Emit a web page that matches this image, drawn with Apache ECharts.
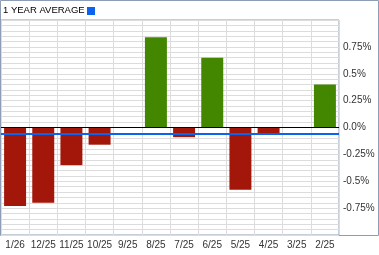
<!DOCTYPE html>
<html><head><meta charset="utf-8">
<script src="https://cdn.jsdelivr.net/npm/echarts@6/dist/echarts.min.js"></script>
<style>html,body{margin:0;padding:0;background:#fff}#c{width:379px;height:255px}</style>
</head><body><div id="c"></div>
<script>
var categories = ['1/26','12/25','11/25','10/25','9/25','8/25','7/25','6/25','5/25','4/25','3/25','2/25'];
var values = [-0.73,-0.70,-0.35,-0.16,0,0.84,-0.09,0.65,-0.58,-0.06,0,0.40];
var average = -0.06;
var yTicks = [0.75,0.5,0.25,0,-0.25,-0.5,-0.75];
var titleText = '1 YEAR AVERAGE';

var chart = echarts.init(document.getElementById('c'), null, {renderer:'canvas'});
var border = '#8c9db5';
chart.setOption({
  animation:false,
  grid:{left:1,right:40,top:20,bottom:20,show:true,borderColor:border,borderWidth:1,backgroundColor:'#fff'},
  graphic:[
    {type:'rect',shape:{x:0.5,y:0.5,width:378,height:235},style:{fill:'none',stroke:border,lineWidth:1},z:-1},
    {type:'text',left:3,top:5,style:{text:titleText,font:'9.5px "Liberation Sans", Arial, sans-serif',fill:'#000'}},
    {type:'rect',shape:{x:87,y:7,width:8,height:8},style:{fill:'#0a64f0'}}
  ],
  xAxis:{type:'category',data:categories,boundaryGap:true,
    axisLine:{show:false},axisTick:{show:false},
    splitLine:{show:true,lineStyle:{color:'#dcdcdc',width:1}},
    axisLabel:{color:'#333',fontSize:10,fontFamily:'"Liberation Sans", Arial, sans-serif',margin:5,interval:0}},
  yAxis:{type:'value',position:'right',min:-1,max:1,interval:0.05,
    axisLine:{show:false},axisTick:{show:false},
    splitLine:{show:true,lineStyle:{color:'#dcdcdc',width:1}},
    axisLabel:{color:'#333',fontSize:10,fontFamily:'"Liberation Sans", Arial, sans-serif',margin:4,
      formatter:function(v){var r=Math.round(v*100)/100;
        for(var i=0;i<yTicks.length;i++){if(Math.abs(yTicks[i]-r)<1e-6){
          var s = r===0?'0.0':String(r); return s+'%';}}
        return '';}}},
  series:[{type:'bar',data:values,barCategoryGap:'22%',
    itemStyle:{color:function(p){return p.value>=0?'#438600':'#a3160a';}},
    markLine:{silent:true,symbol:'none',label:{show:false},
      data:[{yAxis:0,lineStyle:{color:'#000',width:1,type:'solid'}},
            {yAxis:average,lineStyle:{color:'#0a64f0',width:2,type:'solid'}}]}}]
});
</script></body></html>
